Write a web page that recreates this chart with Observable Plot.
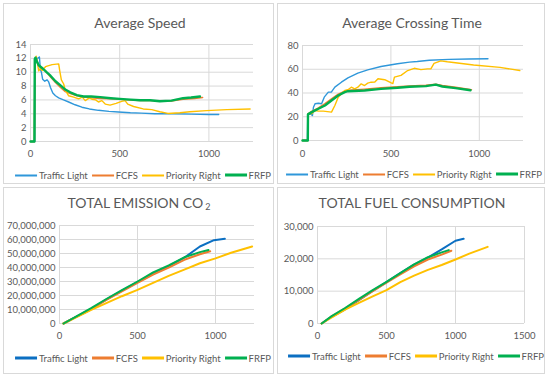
<!DOCTYPE html>
<html>
<head>
<meta charset="utf-8">
<script src="https://cdn.jsdelivr.net/npm/d3@7"></script>
<script src="https://cdn.jsdelivr.net/npm/@observablehq/plot@0.6"></script>
<style>
  html, body { margin: 0; padding: 0; background: #fff; }
  #root { position: relative; width: 550px; height: 379px; overflow: hidden; background: #fff; font-family: Lato, "Open Sans", sans-serif; }
  .panel { position: absolute; border: 1px solid #d9d9d9; box-sizing: border-box; }
  .title { position: absolute; transform: translate(-50%, -50%); white-space: nowrap; color: #595959; font-size: 14px; }
  .title sub { font-size: 9px; vertical-align: -2px; margin-left: 2px; }
  .legend { position: absolute; transform: translate(-50%, -50%); white-space: nowrap; color: #595959; font-size: 9.5px; display: flex; align-items: center; }
  .legend .sw { display: inline-block; width: 22px; margin-right: 2px; margin-left: 4px; }
  .chart { position: absolute; }
</style>
</head>
<body>
<div id="root"></div>
<script>
// ---------- Data ----------
const seriesNames = ["Traffic Light", "FCFS", "Priority Right", "FRFP"];

// Average Speed
const speedTrafficLight = [[0,0],[24,0],[26,11.5],[40,12],[50,12.2],[55,10.5],[61,10.0],[68,9.0],[80,8.7],[93,8.9],[102,8.6],[112,7.8],[125,7.0],[140,6.6],[158,6.3],[185,6.0],[214,5.7],[250,5.3],[288,4.95],[330,4.7],[381,4.5],[440,4.35],[493,4.25],[560,4.15],[620,4.1],[697,4.0],[800,4.0],[900,3.95],[1000,3.9],[1055,3.9]];
const speedFCFS = [[0,0],[22,0],[24,11.8],[30,12.0],[40,11.3],[50,10.9],[80,10.3],[112,9.3],[140,8.5],[168,7.8],[195,7.2],[223,6.9],[260,6.6],[297,6.4],[340,6.3],[391,6.2],[450,6.15],[500,6.1],[560,6.0],[614,5.9],[670,5.9],[725,5.85],[790,5.85],[855,6.1],[920,6.2],[965,6.35]];
const speedPriorityRight = [[0,0],[22,0],[24,11.5],[32,12.3],[38,11.5],[46,10.2],[56,10.5],[65,10.25],[84,10.8],[121,11.1],[158,11.2],[164,10.2],[173,8.9],[186,8.3],[195,7.4],[214,6.6],[242,6.4],[270,6.15],[290,6.4],[307,5.9],[330,6.3],[344,6.1],[365,6.0],[381,5.7],[400,5.9],[419,5.4],[446,5.25],[480,5.5],[511,5.8],[530,5.9],[545,5.4],[578,5.05],[632,4.7],[680,4.6],[725,4.3],[770,4.05],[837,4.15],[893,4.3],[986,4.45],[1100,4.6],[1231,4.7]];
const speedFRFP = [[0,0],[22,0],[24,11.9],[28,12.1],[35,11.6],[46,11.0],[70,10.5],[90,10.0],[112,9.5],[140,8.7],[168,8.1],[195,7.5],[223,7.1],[260,6.7],[297,6.5],[340,6.5],[391,6.4],[450,6.25],[500,6.15],[560,6.05],[614,5.95],[670,5.95],[725,5.8],[790,5.9],[855,6.25],[900,6.35],[950,6.5]];

// Average Crossing Time
const timeTrafficLight = [[0,0],[28,0],[30,22],[45,22.5],[56,21],[62,28],[71,30.9],[90,31.4],[108,30.9],[123,36.5],[146,40.7],[164,40.9],[183,44.9],[220,49.1],[257,52.8],[313,56.7],[369,59.5],[444,62.3],[537,64.6],[605,66],[649,66.5],[717,67.6],[829,68.3],[941,68.6],[1049,68.8]];
const timeFCFS = [[0,0],[30,0],[31,22.5],[52,24.5],[90,27.5],[127,31],[164,35],[202,39],[239,41.5],[257,42.3],[351,43.3],[444,44.5],[537,45.3],[605,46],[698,46.5],[754,47.5],[791,46.3],[866,44.8],[956,42.8]];
const timePriorityRight = [[0,0],[30,0],[31,22],[40,23],[52,22.5],[71,25.3],[90,24.7],[118,24.7],[164,23.9],[183,29.5],[202,36.5],[220,39.3],[239,42.1],[257,42.7],[276,44.9],[295,43.5],[313,44.9],[332,47.7],[351,46.3],[369,48.3],[388,49.1],[409,49.3],[427,52],[465,51.2],[502,48.5],[511,47.9],[520,53.4],[557,54.8],[595,58.9],[632,60.8],[670,59.7],[707,60.3],[726,60.3],[744,64.9],[782,67.1],[819,66.3],[968,63.6],[1117,61.6],[1229,58.9]];
const timeFRFP = [[0,0],[30,0],[31,22],[52,23.9],[90,26.7],[127,29.5],[164,33.7],[202,37.9],[239,40.7],[257,41.5],[351,42.1],[444,43.5],[537,44.4],[605,45.3],[698,45.8],[754,47],[791,45.5],[866,44.1],[950,42.3]];

// Total Emission CO2
const co2TrafficLight = [[26,0],[100,4300000],[200,10000000],[300,17000000],[400,23500000],[500,29500000],[600,35500000],[700,41000000],[800,47000000],[900,55000000],[990,59500000],[1060,60500000]];
const co2FCFS = [[26,0],[100,4400000],[200,10300000],[300,16800000],[400,23000000],[500,29000000],[600,35000000],[700,40000000],[800,45500000],[900,49500000],[966,51600000]];
const co2PriorityRight = [[26,0],[100,4000000],[200,9500000],[300,14500000],[400,19500000],[500,24000000],[600,29000000],[700,34000000],[800,38500000],[900,43000000],[1000,46500000],[1100,50500000],[1235,55000000]];
const co2FRFP = [[26,0],[100,4600000],[200,10800000],[300,17500000],[400,23800000],[500,30000000],[600,36500000],[700,41500000],[800,47300000],[900,51000000],[955,52500000]];

// Total Fuel Consumption
const fuelTrafficLight = [[30,0],[100,2000],[200,4400],[300,7200],[400,10100],[500,12800],[600,15600],[700,18200],[800,20400],[900,22900],[1000,25600],[1059,26200]];
const fuelFCFS = [[30,0],[100,2100],[200,4700],[300,7300],[400,10000],[500,12600],[600,15200],[700,17700],[800,19800],[900,21300],[970,22500]];
const fuelPriorityRight = [[30,0],[100,1800],[200,4300],[300,6400],[400,8400],[500,10300],[600,12800],[700,14800],[800,16600],[900,18100],[1000,19800],[1100,21600],[1233,23700]];
const fuelFRFP = [[30,0],[100,2200],[200,4800],[300,7600],[400,10300],[500,12900],[600,15600],[700,18300],[800,20500],[900,22000],[951,22700]];

// Axis ticks
const speedYTicks = [0,2,4,6,8,10,12,14];
const timeYTicks = [0,20,40,60,80];
const co2YTicks = [0,10000000,20000000,30000000,40000000,50000000,60000000,70000000];
const fuelYTicks = [0,10000,20000,30000];
const xTicksTop = [0,500,1000];
const xTicksFuel = [0,500,1000,1500];

// ---------- Drawing ----------
const root = document.getElementById("root");
const topColors = ["#2F97DA", "#ED7D31", "#FFC000", "#00B050"];
const bottomColors = ["#0B6FC2", "#ED7D31", "#FFC000", "#00B050"];

function addDiv(cls, left, top, w, h, html) {
  const d = document.createElement("div");
  d.className = cls;
  d.style.left = left + "px"; d.style.top = top + "px";
  if (w != null) d.style.width = w + "px";
  if (h != null) d.style.height = h + "px";
  if (html != null) d.innerHTML = html;
  root.appendChild(d);
  return d;
}

function legend(cx, cy, colors, widths) {
  const d = addDiv("legend", cx, cy);
  seriesNames.forEach((n, i) => {
    const sw = document.createElement("span");
    sw.className = "sw";
    sw.style.height = widths[i] + "px";
    sw.style.background = colors[i];
    d.appendChild(sw);
    const t = document.createElement("span");
    t.textContent = n;
    d.appendChild(t);
  });
}

function chart(o) {
  const marks = [
    Plot.gridY(o.yTicks, {stroke: "#d9d9d9", strokeOpacity: 1}),
    Plot.gridX(o.xTicks, {stroke: "#d9d9d9", strokeOpacity: 1}),
  ];
  o.series.forEach((s, i) => {
    marks.push(Plot.line(s, {x: d => d[0], y: d => d[1], stroke: o.colors[i], strokeWidth: o.widths[i], strokeLinejoin: "round"}));
  });
  const p = Plot.plot({
    width: o.width, height: o.height,
    marginLeft: o.ml, marginRight: o.mr, marginTop: o.mt, marginBottom: o.mb,
    style: {fontFamily: "Lato, 'Open Sans', sans-serif", fontSize: "9.5px", color: "#595959", background: "transparent", overflow: "visible"},
    x: {domain: o.xDomain, ticks: o.xTicks, tickSize: 0, tickPadding: o.xPad, tickFormat: d => String(d), label: null},
    y: {domain: o.yDomain, ticks: o.yTicks, tickSize: 0, tickPadding: 4, tickFormat: o.yFormat, label: null},
    marks
  });
  p.classList.add("chart");
  p.style.left = o.left + "px";
  p.style.top = o.top + "px";
  root.appendChild(p);
}

// panels
addDiv("panel", 3, 3, 271, 181);
addDiv("panel", 277, 3, 268, 181);
addDiv("panel", 3, 187, 271, 187);
addDiv("panel", 277, 187, 268, 187);

// titles
addDiv("title", 140, 22, null, null, "Average Speed");
addDiv("title", 412, 22, null, null, "Average Crossing Time");
addDiv("title", 139, 203, null, null, "TOTAL EMISSION CO<sub>2</sub>");
addDiv("title", 412, 202, null, null, "TOTAL FUEL CONSUMPTION");

const fmt = d3.format(",");

chart({series: [speedTrafficLight, speedFCFS, speedPriorityRight, speedFRFP], colors: topColors, widths: [1.4,1.4,1.4,2.4],
  left: 0, top: 34, width: 273, height: 130, ml: 30, mr: 20, mt: 10, mb: 23,
  xDomain: [0,1250], xTicks: xTicksTop, yDomain: [0,14], yTicks: speedYTicks, yFormat: d => d, xPad: 9});
chart({series: [timeTrafficLight, timeFCFS, timePriorityRight, timeFRFP], colors: topColors, widths: [1.4,1.4,1.4,2.4],
  left: 275, top: 34, width: 273, height: 130, ml: 27, mr: 25, mt: 11, mb: 24,
  xDomain: [0,1250], xTicks: xTicksTop, yDomain: [0,80], yTicks: timeYTicks, yFormat: d => d, xPad: 10});
chart({series: [co2TrafficLight, co2FCFS, co2PriorityRight, co2FRFP], colors: bottomColors, widths: [2,2,2,2],
  left: 0, top: 215, width: 273, height: 135, ml: 59, mr: 19, mt: 10, mb: 27,
  xDomain: [0,1250], xTicks: xTicksTop, yDomain: [0,70000000], yTicks: co2YTicks, yFormat: fmt, xPad: 9});
chart({series: [fuelTrafficLight, fuelFCFS, fuelPriorityRight, fuelFRFP], colors: bottomColors, widths: [2,2,2,2],
  left: 275, top: 215, width: 273, height: 135, ml: 42, mr: 24, mt: 11, mb: 27,
  xDomain: [0,1500], xTicks: xTicksFuel, yDomain: [0,30000], yTicks: fuelYTicks, yFormat: fmt, xPad: 9});

// legends
legend(141, 175, topColors, [2,2,2,3]);
legend(412, 174, topColors, [2,2,2,3]);
legend(141, 358, bottomColors, [3,3,3,3]);
legend(414, 356, bottomColors, [3,3,3,3]);
</script>
</body>
</html>
